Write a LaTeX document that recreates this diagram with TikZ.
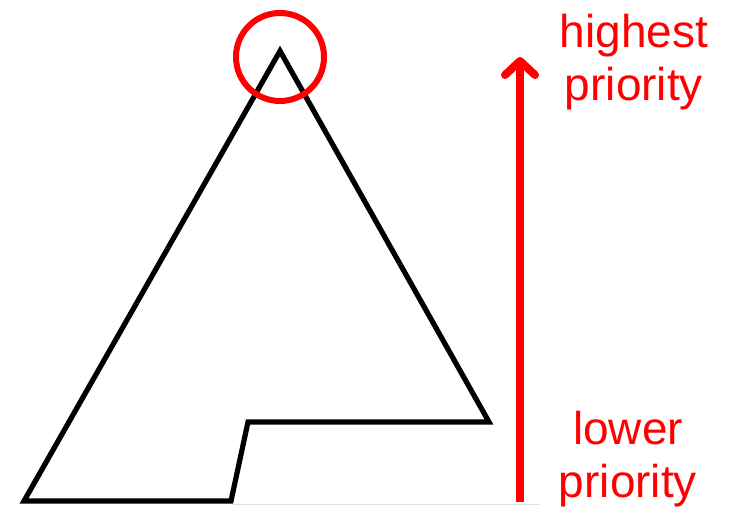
\documentclass[tikz,border=0pt]{standalone}
\usepackage{fontspec}
\setmainfont{Liberation Sans}
\usetikzlibrary{arrows.meta}

\begin{document}
\begin{tikzpicture}[x=.5pt,y=-.5pt,line join=miter,
  outline/.style={line width=2.6pt,black},
  ring/.style={draw=red,line width=3pt},
  rise/.style={red,line width=4pt,-{Straight Barb[length=7pt,width=15pt,line width=4pt,round]}},
  prio/.style={text=red,font=\fontsize{23}{26.5}\selectfont,align=center,inner sep=0pt}]
  \useasboundingbox (0,0) rectangle (738,513);
  % Pyramid with a notch cut out of its base.
  \coordinate (apex) at (280,51);
  \coordinate (bl) at (24,501);
  \coordinate (br) at (231,501);
  \coordinate (nt) at (248,422);
  \coordinate (nr) at (489,422);
  \draw[outline] (br)--(bl)--(apex)--(nr)--(nt)--cycle;
  \draw[gray!25,line width=.5pt] (233,504)--(540,504);
  % Top of the pyramid.
  \draw[ring] (apex) ++(0,6) circle (44);
  % Priority scale.
  \coordinate (low) at (520,502);
  \coordinate (high) at (520,57);
  \draw[rise] (low)--(high);
  \node[prio] (top) at (634,62) {highest\\priority};
  \node[prio] (bottom) at (628,459) {lower\\priority};
\end{tikzpicture}
\end{document}
